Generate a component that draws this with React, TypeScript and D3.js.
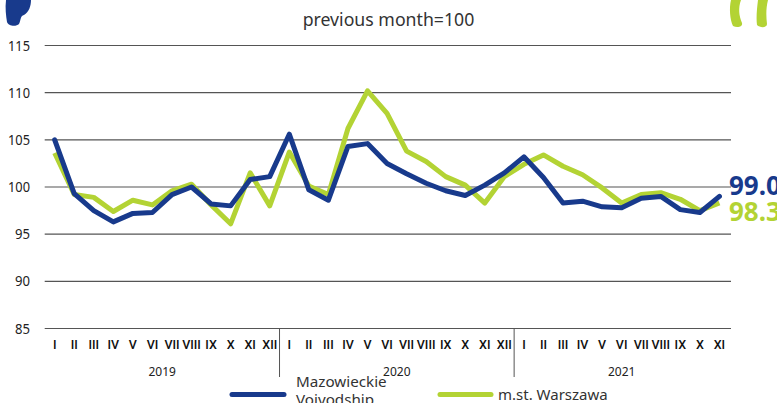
import * as d3 from "d3";

const width = 777;
const height = 403;

const months = ["I", "II", "III", "IV", "V", "VI", "VII", "VIII", "IX", "X", "XI", "XII"];
const years = ["2019", "2020", "2021"];
const yTicks = [85, 90, 95, 100, 105, 110, 115];

const mazowieckie = [
  105, 99.3, 97.5, 96.3, 97.2, 97.3, 99.2, 100, 98.2, 98, 100.8, 101.1,
  105.6, 99.7, 98.6, 104.3, 104.6, 102.5, 101.4, 100.4, 99.6, 99.1, 100.2, 101.5,
  103.2, 101, 98.3, 98.5, 97.9, 97.8, 98.8, 99, 97.6, 97.3, 99,
];
const warszawa = [
  103.6, 99.2, 98.9, 97.4, 98.6, 98.1, 99.6, 100.3, 98.1, 96.1, 101.5, 98,
  103.7, 100.1, 99.2, 106.2, 110.2, 107.8, 103.8, 102.7, 101.1, 100.2, 98.3, 101.1,
  102.4, 103.4, 102.2, 101.3, 99.9, 98.3, 99.2, 99.4, 98.7, 97.5, 98.3,
];

const BLUE = "#183a8c";
const GREEN = "#b3d334";
const font = "'Noto Sans', sans-serif";

// 35 months on the axis: 12 + 12 + 11
const labels = years.flatMap((y, i) =>
  months.slice(0, i === 2 ? 11 : 12).map((m) => ({ key: `${y}-${m}`, month: m }))
);

export default function App() {
  const xScale = d3
    .scaleBand()
    .domain(labels.map((d) => d.key))
    .range([44.9, 729.2]);
  const yScale = d3.scaleLinear().domain([85, 115]).range([328.5, 45.5]);
  const cx = (i: number) => (xScale(labels[i].key) ?? 0) + xScale.bandwidth() / 2;

  const line = d3
    .line<number>()
    .x((_, i) => cx(i))
    .y((d) => yScale(d));

  const yearStart = (i: number) => xScale(labels[i * 12].key) ?? 0;

  return (
    <svg
      width={width}
      height={height}
      style={{ position: "absolute", left: 0, top: 0, background: "#fff" }}
      fontFamily={font}
    >
      {/* decorative quote marks, cut off by the top edge */}
      <path
        d="M6 0 C5 8 6 16 7 22 C8 26 16 27 19 24 C21 20 20 16 24 15 C29 12 31 6 31 0 Z"
        fill={BLUE}
      />
      <path d="M731 0 C729 8 730 20 733 26 C737 28 743 27 742 23 C739 16 738 8 741 0 Z" fill={GREEN} />
      <path d="M758 0 C757 8 756 18 757 25 C760 28 767 28 767 24 C766 16 766 8 768 0 Z" fill={GREEN} />

      <text x={388.5} y={26} textAnchor="middle" fontSize={17.7} fill="#333">
        previous month=100
      </text>

      {yTicks.map((t) => (
        <g key={t}>
          <line x1={44.7} x2={731} y1={yScale(t)} y2={yScale(t)} stroke="#555" strokeWidth={1.2} />
          <text x={30} y={yScale(t) + 5} textAnchor="end" fontSize={14} fill="#222" textLength={t >= 100 ? 22 : 15} lengthAdjust="spacingAndGlyphs">
            {t}
          </text>
        </g>
      ))}

      {[1, 2].map((i) => (
        <line key={i} x1={yearStart(i)} x2={yearStart(i)} y1={328.5} y2={377} stroke="#555" strokeWidth={1} />
      ))}

      {labels.map((d, i) => (
        <text key={d.key} x={cx(i)} y={349} textAnchor="middle" fontSize={12.5} fontWeight={500} fontFamily="Roboto, sans-serif" fill="#111">
          {d.month}
        </text>
      ))}

      {years.map((y, i) => {
        const first = i * 12;
        const last = Math.min(first + 11, labels.length - 1);
        return (
          <text key={y} x={(cx(first) + cx(last)) / 2} y={376} textAnchor="middle" fontSize={12} fill="#222">
            {y}
          </text>
        );
      })}

      <path d={line(warszawa) ?? ""} fill="none" stroke={GREEN} strokeWidth={5} strokeLinejoin="round" />
      <path d={line(mazowieckie) ?? ""} fill="none" stroke={BLUE} strokeWidth={5} strokeLinejoin="round" strokeLinecap="round" />

      <text x={729} y={195} fontSize={26} fontWeight={700} fill={BLUE}>
        {mazowieckie[mazowieckie.length - 1].toFixed(1)}
      </text>
      <text x={729} y={221} fontSize={26} fontWeight={700} fill={GREEN}>
        {warszawa[warszawa.length - 1].toFixed(1)}
      </text>

      <line x1={232} x2={284} y1={394.5} y2={394.5} stroke={BLUE} strokeWidth={5} strokeLinecap="round" />
      <text x={296} y={387} fontSize={15.2} fill="#333">Mazowieckie</text>
      <text x={296} y={405} fontSize={15.2} fill="#333">Voivodship</text>
      <line x1={440} x2={491} y1={394.5} y2={394.5} stroke={GREEN} strokeWidth={5} strokeLinecap="round" />
      <text x={498} y={400} fontSize={15} fill="#333">m.st. Warszawa</text>
    </svg>
  );
}
